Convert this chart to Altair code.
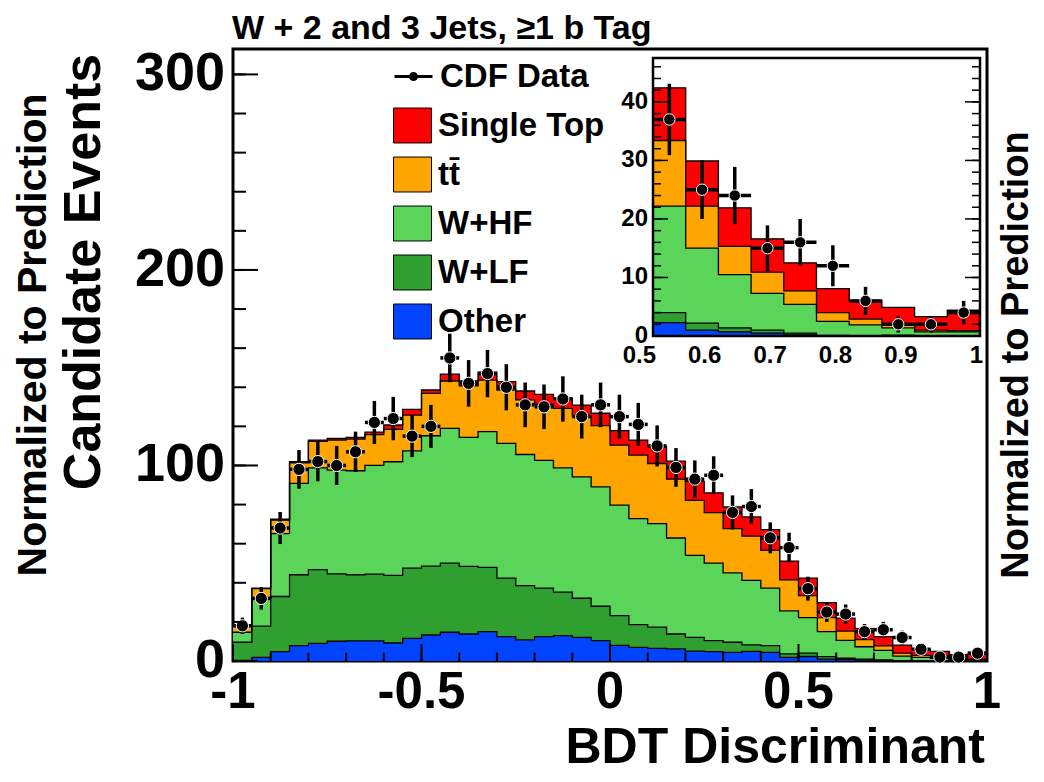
import altair as alt
import pandas as pd

FONT = "Liberation Sans"

# ---------------- data ----------------
BIN_WIDTH = 0.05
bin_lo = [round(-1 + BIN_WIDTH * i, 2) for i in range(40)]

other = [0.3, 1.9, 4.8, 7.9, 9.0, 10.1, 10.3, 10.3, 9.2, 11.6,
         13.3, 14.7, 13.8, 15.0, 12.5, 10.8, 12.5, 13.0, 12.1, 10.4,
         8.0, 7.0, 6.5, 6.2, 5.0, 4.8, 4.4, 4.9, 4.4, 1.9,
         2.3, 1.0, 0.7, 0.5, 0.2, 0.05, 0.0, 0.1, 0.0, 0.0]
wlf = [9.3, 15.9, 28.2, 36.2, 37.7, 34.5, 33.8, 34.1, 34.6, 35.9,
       35.2, 35.4, 34.6, 32.9, 29.9, 27.8, 24.8, 22.2, 20.0, 17.6,
       15.2, 11.6, 10.8, 7.6, 7.1, 5.6, 5.2, 3.3, 3.5, 1.7,
       1.7, 1.2, 0.7, 0.5, 0.3, 0.05, 0.05, 0.0, 0.05, 0.05]
whf = [5.1, 14.3, 32.1, 46.7, 52.1, 53.0, 53.2, 55.6, 58.1, 60.0,
       66.7, 68.9, 66.0, 69.4, 68.9, 67.0, 65.3, 63.6, 62.1, 61.1,
       56.5, 54.2, 53.0, 49.1, 41.9, 39.7, 35.5, 33.0, 29.4, 22.0,
       18.2, 12.8, 9.1, 6.3, 4.9, 2.4, 1.85, 1.3, 0.65, 0.65]
ttbar = [3.6, 4.9, 6.9, 10.5, 13.5, 15.4, 16.2, 15.8, 16.6, 18.3,
         21.7, 24.2, 26.3, 26.4, 27.3, 27.9, 28.7, 30.4, 31.1, 31.3,
         30.7, 32.5, 30.7, 30.1, 28.2, 25.8, 22.6, 22.7, 19.3, 15.9,
         11.2, 7.2, 4.8, 3.6, 2.3, 1.5, 1.0, 0.7, 0.3, 0.2]
single_top = [0.3, 0.3, 0.5, 0.6, 0.7, 0.8, 0.9, 1.3, 2.2, 2.9,
              1.7, 3.5, 2.5, 4.0, 4.3, 4.6, 5.1, 5.2, 5.6, 6.3,
              7.4, 7.7, 8.6, 9.2, 9.7, 10.1, 11.1, 9.8, 10.6, 9.6,
              9.0, 7.7, 6.6, 5.7, 4.8, 4.1, 3.2, 2.8, 2.3, 3.5]
data_counts = [18, 32, 68, 98, 102, 100, 107, 122, 124, 115,
               120, 155, 142, 147, 140, 131, 130, 134, 125, 131,
               125, 121, 110, 99, 93, 95, 76, 79, 63, 58,
               37, 25, 24, 15, 16, 12, 6, 2, 2, 4]
data_err = [4.2, 5.7, 8.2, 9.9, 10.1, 10.0, 10.3, 11.0, 11.1, 10.7,
            11.0, 12.4, 11.9, 12.1, 11.8, 11.4, 11.4, 11.6, 11.2, 11.4,
            11.2, 11.0, 10.5, 9.9, 9.6, 9.7, 8.7, 8.9, 7.9, 7.6,
            6.1, 5.0, 4.9, 3.9, 4.0, 3.5, 2.4, 1.4, 1.4, 2.0]

SERIES = ["Single Top", "tt\u0304", "W+HF", "W+LF", "Other"]
COLORS = ["#ff0000", "#ffa500", "#5ad55a", "#2fa02f", "#0044ff"]

main_x_ticks = [-1.0, -0.9, -0.8, -0.7, -0.6, -0.5, -0.4, -0.3, -0.2, -0.1, 0.0,
                0.1, 0.2, 0.3, 0.4, 0.5, 0.6, 0.7, 0.8, 0.9, 1.0]
main_x_major = [-1.0, -0.5, 0.0, 0.5, 1.0]
main_x_labels = ["-1", "-0.5", "0", "0.5", "1"]
main_y_ticks = [0, 20, 40, 60, 80, 100, 120, 140, 160, 180, 200, 220, 240, 260, 280, 300]
main_y_major = [0, 100, 200, 300]
main_y_labels = ["0", "100", "200", "300"]
inset_y_ticks = [0, 2, 4, 6, 8, 10, 12, 14, 16, 18, 20, 22, 24, 26, 28, 30,
                 32, 34, 36, 38, 40, 42, 44, 46]
inset_y_major = [0, 10, 20, 30, 40]
inset_y_labels = ["0", "10", "20", "30", "40"]
inset_x_major = [0.5, 0.6, 0.7, 0.8, 0.9, 1.0]
inset_x_labels = ["0.5", "0.6", "0.7", "0.8", "0.9", "1"]

TITLE = "W + 2 and 3 Jets, \u22651 b Tag"
XTITLE = "BDT Discriminant"
YTITLE = "Candidate Events"
NORM = "Normalized to Prediction"

# ---------------- layout ----------------
W, H = 754, 612
Y_MAX = 313
INSET_X = [420, 747]
INSET_Y = [287, 9]
INSET_YMAX = 47.5

# ---------------- tables ----------------
bottom_up = [("Other", other), ("W+LF", wlf), ("W+HF", whf),
             ("tt\u0304", ttbar), ("Single Top", single_top)]
rows = []
run = [0.0] * len(bin_lo)
for name, comp in bottom_up:
    run = [a + b for a, b in zip(run, comp)]
    for lo, v in zip(bin_lo, run):
        rows.append({"series": name, "x": lo, "top": v})
    rows.append({"series": name, "x": 1.0, "top": run[-1]})
stack_df = pd.DataFrame(rows)
inset_stack_df = stack_df[stack_df["x"] >= 0.5 - 1e-9]

data_df = pd.DataFrame({
    "lo": bin_lo,
    "hi": [round(v + BIN_WIDTH, 2) for v in bin_lo],
    "c": [round(v + BIN_WIDTH / 2, 3) for v in bin_lo],
    "n": data_counts,
    "err": data_err,
})
data_df["elo"] = data_df["n"] - data_df["err"]
data_df["ehi"] = data_df["n"] + data_df["err"]
data_df["label"] = "CDF Data"
inset_data_df = data_df[data_df["lo"] >= 0.5 - 1e-9]

color_scale = alt.Scale(domain=SERIES, range=COLORS)
color_legend = alt.Legend(
    title=None, orient="none", legendX=160, legendY=57,
    symbolType="M-1,-0.92H1V0.92H-1Z", symbolSize=1444,
    symbolStrokeColor="black", symbolStrokeWidth=1, symbolOpacity=1,
    labelFont=FONT, labelFontSize=33, labelFontWeight="bold", labelColor="black",
    labelOffset=6, rowPadding=10, labelLimit=0)
data_legend = alt.Legend(
    title=None, orient="none", legendX=160, legendY=7,
    symbolType="M-1,0H1M0.16,0A0.16,0.16,0,1,1,-0.16,0A0.16,0.16,0,1,1,0.16,0Z",
    symbolSize=1444, symbolFillColor="black", symbolStrokeColor="black",
    symbolStrokeWidth=3, symbolOpacity=1,
    labelFont=FONT, labelFontSize=33, labelFontWeight="bold", labelColor="black",
    labelOffset=6, labelLimit=0)

xs_main = alt.Scale(domain=[-1, 1], nice=False, zero=False)
ys_main = alt.Scale(domain=[0, Y_MAX], nice=False)
xs_in = alt.Scale(domain=[0.5, 1.0], range=INSET_X, nice=False, zero=False)
ys_in = alt.Scale(domain=[0, INSET_YMAX], range=INSET_Y, nice=False)

txt_kw = dict(font=FONT, fontWeight="bold", color="black")


def stack_layers(df, xs, ys, legend):
    layers = []
    for name in SERIES:
        layers.append(
            alt.Chart(df).transform_filter(alt.datum.series == name)
            .mark_area(interpolate="step-after", opacity=1)
            .encode(
                x=alt.X("x:Q", scale=xs, axis=None),
                y=alt.Y("top:Q", scale=ys, axis=None),
                color=alt.Color("series:N", scale=color_scale, legend=legend),
            ))
    layers.append(
        alt.Chart(df).mark_line(interpolate="step-after", color="black", strokeWidth=1.3)
        .encode(x=alt.X("x:Q", scale=xs, axis=None),
                y=alt.Y("top:Q", scale=ys, axis=None),
                detail="series:N"))
    return layers


def data_layers(df, xs, ys, with_legend, size, ew):
    hbar = alt.Chart(df).mark_rule(color="black", strokeWidth=ew).encode(
        x=alt.X("lo:Q", scale=xs, axis=None), x2="hi:Q",
        y=alt.Y("n:Q", scale=ys, axis=None))
    vbar = alt.Chart(df).mark_rule(color="black", strokeWidth=ew).encode(
        x=alt.X("c:Q", scale=xs, axis=None),
        y=alt.Y("elo:Q", scale=ys, axis=None), y2="ehi:Q")
    if with_legend:
        pts = alt.Chart(df).mark_point(filled=True, size=size, stroke="white",
                                       strokeWidth=1, opacity=1).encode(
            x=alt.X("c:Q", scale=xs, axis=None),
            y=alt.Y("n:Q", scale=ys, axis=None),
            fill=alt.Fill("label:N", scale=alt.Scale(domain=["CDF Data"], range=["black"]),
                          legend=data_legend))
    else:
        pts = alt.Chart(df).mark_point(filled=True, size=size, fill="black", stroke="white",
                                       strokeWidth=1, opacity=1).encode(
            x=alt.X("c:Q", scale=xs, axis=None),
            y=alt.Y("n:Q", scale=ys, axis=None))
    return [hbar, vbar, pts]


def tick_df(vals):
    return pd.DataFrame({"v": vals})


def lab_df(vals, texts):
    return pd.DataFrame({"v": vals, "t": texts})


# main ticks (inside, ROOT style)
main_ticks = [
    alt.Chart(tick_df(main_y_ticks)).mark_rule(color="black", strokeWidth=2).encode(
        y=alt.Y("v:Q", scale=ys_main, axis=None), x=alt.value(0), x2=alt.value(13)),
    alt.Chart(tick_df(main_y_major)).mark_rule(color="black", strokeWidth=2).encode(
        y=alt.Y("v:Q", scale=ys_main, axis=None), x=alt.value(0), x2=alt.value(25)),
    alt.Chart(tick_df(main_x_ticks)).mark_rule(color="black", strokeWidth=2).encode(
        x=alt.X("v:Q", scale=xs_main, axis=None), y=alt.value(H), y2=alt.value(H - 8.5)),
    alt.Chart(tick_df(main_x_major)).mark_rule(color="black", strokeWidth=2).encode(
        x=alt.X("v:Q", scale=xs_main, axis=None), y=alt.value(H), y2=alt.value(H - 17)),
]
main_labels = [
    alt.Chart(lab_df(main_y_major, main_y_labels)).mark_text(
        fontSize=54, align="right", baseline="middle", **txt_kw).encode(
        y=alt.Y("v:Q", scale=ys_main, axis=None), x=alt.value(-8), text="t:N"),
    alt.Chart(lab_df(main_x_major, main_x_labels)).mark_text(
        fontSize=51, align="center", baseline="alphabetic", **txt_kw).encode(
        x=alt.X("v:Q", scale=xs_main, axis=None), y=alt.value(H + 47), text="t:N"),
]

main = alt.layer(
    *stack_layers(stack_df, xs_main, ys_main, color_legend),
    *data_layers(data_df, xs_main, ys_main, True, 150, 3.5),
    *main_ticks,
    *main_labels,
)

frame_df = pd.DataFrame({"x0": [0.5], "x1": [1.0], "y0": [0.0], "y1": [INSET_YMAX]})
inset_bg = alt.Chart(frame_df).mark_rect(fill="white").encode(
    x=alt.X("x0:Q", scale=xs_in, axis=None), x2="x1:Q",
    y=alt.Y("y0:Q", scale=ys_in, axis=None), y2="y1:Q")
inset_frame = alt.Chart(frame_df).mark_rect(fillOpacity=0, stroke="black",
                                            strokeWidth=2.5).encode(
    x=alt.X("x0:Q", scale=xs_in, axis=None), x2="x1:Q",
    y=alt.Y("y0:Q", scale=ys_in, axis=None), y2="y1:Q")
inset_ticks = [
    alt.Chart(tick_df(inset_y_ticks)).mark_rule(color="black", strokeWidth=1.5).encode(
        y=alt.Y("v:Q", scale=ys_in, axis=None),
        x=alt.value(INSET_X[0]), x2=alt.value(INSET_X[0] + 8)),
    alt.Chart(tick_df(inset_y_major)).mark_rule(color="black", strokeWidth=1.5).encode(
        y=alt.Y("v:Q", scale=ys_in, axis=None),
        x=alt.value(INSET_X[0]), x2=alt.value(INSET_X[0] + 15)),
    alt.Chart(tick_df(inset_y_ticks)).mark_rule(color="black", strokeWidth=1.5).encode(
        y=alt.Y("v:Q", scale=ys_in, axis=None),
        x=alt.value(INSET_X[1]), x2=alt.value(INSET_X[1] - 8)),
    alt.Chart(tick_df(inset_y_major)).mark_rule(color="black", strokeWidth=1.5).encode(
        y=alt.Y("v:Q", scale=ys_in, axis=None),
        x=alt.value(INSET_X[1]), x2=alt.value(INSET_X[1] - 15)),
]
inset_labels = [
    alt.Chart(lab_df(inset_y_major, inset_y_labels)).mark_text(
        fontSize=24, align="right", baseline="middle", **txt_kw).encode(
        y=alt.Y("v:Q", scale=ys_in, axis=None), x=alt.value(INSET_X[0] - 5), text="t:N"),
    alt.Chart(lab_df(inset_x_major, inset_x_labels)).mark_text(
        fontSize=24, align="right", baseline="alphabetic", dx=3, **txt_kw).encode(
        x=alt.X("v:Q", scale=xs_in, axis=None), y=alt.value(INSET_Y[0] + 27), text="t:N"),
]

inset = alt.layer(
    inset_bg,
    *stack_layers(inset_stack_df, xs_in, ys_in, color_legend),
    *data_layers(inset_data_df, xs_in, ys_in, False, 130, 3.5),
    *inset_ticks,
    inset_frame,
    *inset_labels,
)

title_layer = alt.Chart(pd.DataFrame({"t": [TITLE]})).mark_text(
    fontSize=34, align="left", baseline="alphabetic", **txt_kw).encode(
    text="t:N", x=alt.value(-1), y=alt.value(-10))
ytitle_layer = alt.Chart(pd.DataFrame({"t": [YTITLE]})).mark_text(
    fontSize=52, align="center", baseline="alphabetic", angle=270, **txt_kw).encode(
    text="t:N", x=alt.value(-133), y=alt.value(223))
xtitle_layer = alt.Chart(pd.DataFrame({"t": [XTITLE]})).mark_text(
    fontSize=50, align="right", baseline="alphabetic", **txt_kw).encode(
    text="t:N", x=alt.value(W - 2), y=alt.value(H + 102))
norm_left = alt.Chart(pd.DataFrame({"t": [NORM]})).mark_text(
    fontSize=41, align="center", baseline="alphabetic", angle=270, **txt_kw).encode(
    text="t:N", x=alt.value(-187), y=alt.value(286))
norm_right = alt.Chart(pd.DataFrame({"t": [NORM]})).mark_text(
    fontSize=38, align="center", baseline="alphabetic", angle=270, **txt_kw).encode(
    text="t:N", x=alt.value(795), y=alt.value(306))

chart = alt.layer(
    main, inset, title_layer, ytitle_layer, xtitle_layer, norm_left, norm_right
).resolve_scale(
    x="independent", y="independent"
).properties(
    width=W, height=H,
    autosize=alt.AutoSizeParams(type="none"),
    padding={"left": 225, "top": 41, "right": 49, "bottom": 113},
    background="white",
).configure_view(stroke="black", strokeWidth=3)

chart.save("out.html", embed_options={"renderer": "svg", "actions": False})
